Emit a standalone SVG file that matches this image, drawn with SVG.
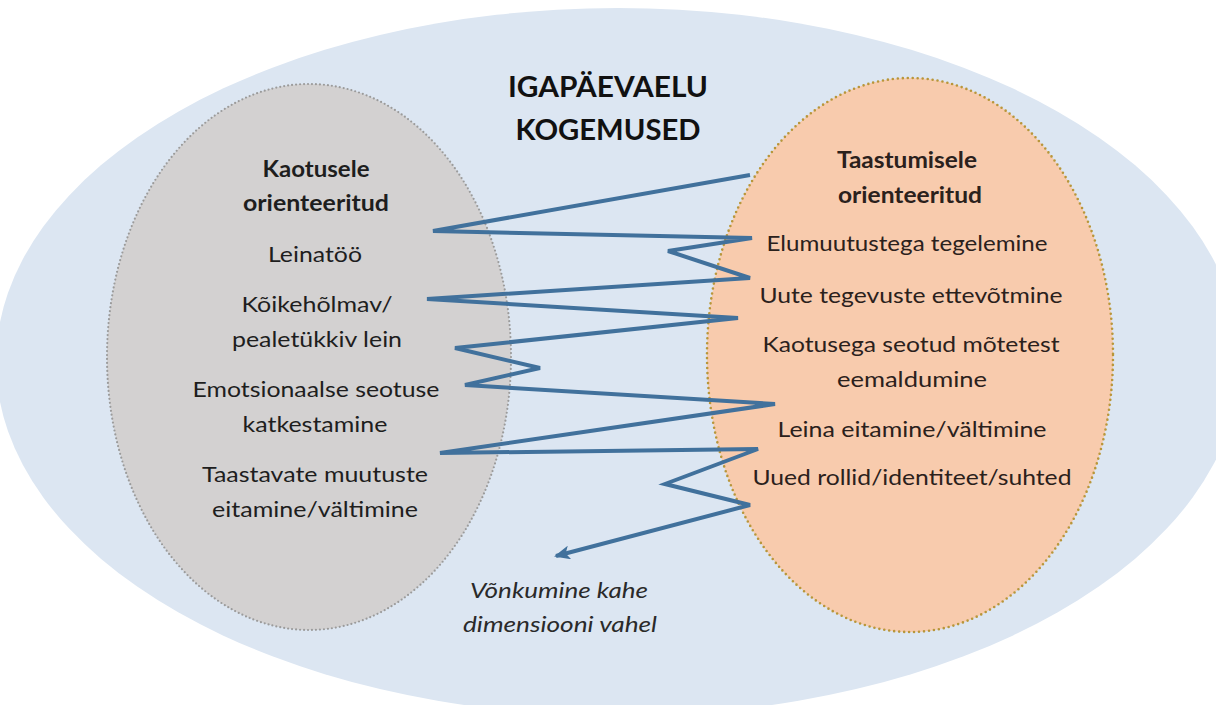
<svg xmlns="http://www.w3.org/2000/svg" width="1216" height="705" viewBox="0 0 1216 705">
  <style>
    .t { font-family: Lato, "Noto Sans", "Liberation Sans", sans-serif; font-size: 22px; fill: #1e1e1e; text-anchor: middle; }
    .r { fill: #2b211c; }
    .b { font-weight: bold; }
    .title { font-family: Lato, "Noto Sans", "Liberation Sans", sans-serif; font-size: 28px; font-weight: bold; fill: #111; text-anchor: middle; }
    .it { font-style: italic; fill: #2a2a2a; }
    .zig { fill: none; stroke: #41719c; stroke-width: 4; stroke-linejoin: miter; stroke-miterlimit: 4; }
  </style>
  <defs>
    <marker id="arrow" markerUnits="userSpaceOnUse" markerWidth="16" markerHeight="14" refX="14" refY="7" orient="auto">
      <path d="M0,0 L16,7 L0,14 L4,7 Z" fill="#41719c"/>
    </marker>
  </defs>
  <rect width="1216" height="705" fill="#ffffff"/>
  <g id="outer">
    <ellipse cx="618" cy="362" rx="622" ry="354" fill="#dce6f2"/>
    <text class="title" x="608" y="97" textLength="200" lengthAdjust="spacingAndGlyphs">IGAPÄEVAELU</text>
    <text class="title" x="608" y="140" textLength="185" lengthAdjust="spacingAndGlyphs">KOGEMUSED</text>
  </g>
  <g id="loss">
    <ellipse cx="309" cy="357" rx="202" ry="273" fill="#d3d1d1" stroke="#9b9b9b" stroke-width="2.2" stroke-dasharray="0 4" stroke-linecap="round"/>
    <text class="t b" x="316" y="177" textLength="107" lengthAdjust="spacingAndGlyphs">Kaotusele</text>
    <text class="t b" x="316" y="211" textLength="146" lengthAdjust="spacingAndGlyphs">orienteeritud</text>
    <text class="t" x="315" y="262" textLength="94" lengthAdjust="spacingAndGlyphs">Leinatöö</text>
    <text class="t" x="317" y="312" textLength="151" lengthAdjust="spacingAndGlyphs">Kõikehõlmav/</text>
    <text class="t" x="317" y="347" textLength="170" lengthAdjust="spacingAndGlyphs">pealetükkiv lein</text>
    <text class="t" x="316" y="397" textLength="247" lengthAdjust="spacingAndGlyphs">Emotsionaalse seotuse</text>
    <text class="t" x="315" y="432" textLength="145" lengthAdjust="spacingAndGlyphs">katkestamine</text>
    <text class="t" x="315" y="482" textLength="226" lengthAdjust="spacingAndGlyphs">Taastavate muutuste</text>
    <text class="t" x="315" y="517" textLength="206" lengthAdjust="spacingAndGlyphs">eitamine/vältimine</text>
  </g>
  <g id="restoration">
    <ellipse cx="910" cy="355" rx="203" ry="277" fill="#f8cbad" stroke="#b8963a" stroke-width="2.6" stroke-dasharray="0 5" stroke-linecap="round"/>
    <text class="t r b" x="907" y="168" textLength="140" lengthAdjust="spacingAndGlyphs">Taastumisele</text>
    <text class="t r b" x="910" y="203" textLength="144" lengthAdjust="spacingAndGlyphs">orienteeritud</text>
    <text class="t r" x="907" y="251" textLength="281" lengthAdjust="spacingAndGlyphs">Elumuutustega tegelemine</text>
    <text class="t r" x="911" y="303" textLength="303" lengthAdjust="spacingAndGlyphs">Uute tegevuste ettevõtmine</text>
    <text class="t r" x="911" y="352" textLength="297" lengthAdjust="spacingAndGlyphs">Kaotusega seotud mõtetest</text>
    <text class="t r" x="912" y="387" textLength="150" lengthAdjust="spacingAndGlyphs">eemaldumine</text>
    <text class="t r" x="912" y="437" textLength="269" lengthAdjust="spacingAndGlyphs">Leina eitamine/vältimine</text>
    <text class="t r" x="912" y="485" textLength="319" lengthAdjust="spacingAndGlyphs">Uued rollid/identiteet/suhted</text>
  </g>
  <g id="connectors">
    <path class="zig" marker-end="url(#arrow)" d="M750,175 L433,231 L752,238 L668,251 L750,278 L427,299 L738,318 L455,348 L540,368 L465,385 L775,404 L440,453 L758,449 L665,484 L750,505 L556,556"/>
  </g>
  <g id="caption">
    <text class="t it" x="559" y="598" textLength="178" lengthAdjust="spacingAndGlyphs">Võnkumine kahe</text>
    <text class="t it" x="560" y="632" textLength="194" lengthAdjust="spacingAndGlyphs">dimensiooni vahel</text>
  </g>
</svg>
